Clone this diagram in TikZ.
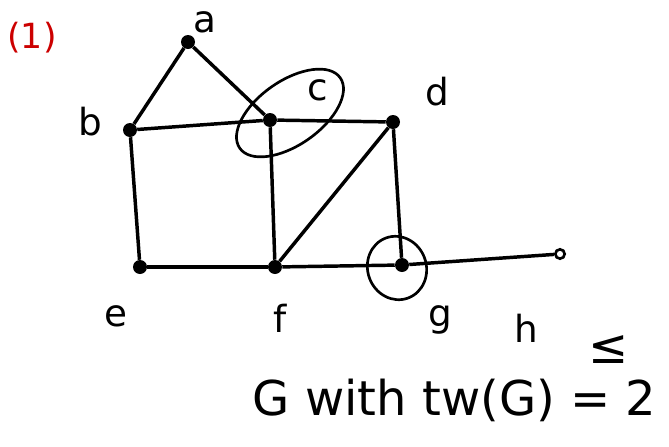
\documentclass[tikz,border=0pt]{standalone}
\usepackage{fontspec}
\setmainfont{DejaVu Sans}
\usetikzlibrary{shapes.geometric}
\begin{document}
\begin{tikzpicture}[x=0.75pt,y=-0.75pt,
  vtx/.style={circle,fill=black,inner sep=0pt,minimum size=10.5pt},
  hollow/.style={circle,draw=black,line width=2pt,inner sep=0pt,minimum size=7pt},
  edge/.style={line width=2.6pt,black},
  lbl/.style={font=\fontsize{28}{32}\selectfont},
  ring/.style={draw,line width=2pt}]
\useasboundingbox (0,0) rectangle (669,447);
\node[text=red!80!black,font=\fontsize{26}{30}\selectfont] (num) at (32,38) {(1)};
\node[vtx] (a) at (188,42) {};
\node[vtx] (b) at (130,130) {};
\node[vtx] (c) at (270,120) {};
\node[vtx] (d) at (393,122) {};
\node[vtx] (e) at (140,267) {};
\node[vtx] (f) at (275,267) {};
\node[vtx] (g) at (402,265) {};
\node[hollow] (h) at (560,254) {};
\draw[edge] (a) -- (b);
\draw[edge] (a) -- (c);
\draw[edge] (b) -- (c);
\draw[edge] (c) -- (d);
\draw[edge] (b) -- (e);
\draw[edge] (e) -- (f);
\draw[edge] (c) -- (f);
\draw[edge] (f) -- (d);
\draw[edge] (d) -- (g);
\draw[edge] (f) -- (g);
\draw[edge] (g) -- (h);
\node[ring,ellipse,minimum width=92pt,minimum height=48pt,rotate=35,inner sep=0pt] (cring) at (290,113) {};
\node[ring,ellipse,minimum width=44pt,minimum height=48pt,rotate=20,inner sep=0pt] (gring) at (397,268) {};
\node[lbl] (la) at (205,22) {a};
\node[lbl] (lb) at (90,122) {b};
\node[lbl] (lc) at (318,90) {c};
\node[lbl] (ld) at (437,92) {d};
\node[lbl] (le) at (116,316) {e};
\node[lbl] (lf) at (280,318) {f};
\node[lbl] (lg) at (440,320) {g};
\node[lbl] (lh) at (526,328) {h};
\node[font=\fontsize{36}{40}\selectfont] (leq) at (609,350) {≤};
\node[font=\fontsize{36}{40}\selectfont,anchor=west] (cap) at (248,400) {G with tw(G) = 2};
\end{tikzpicture}
\end{document}
